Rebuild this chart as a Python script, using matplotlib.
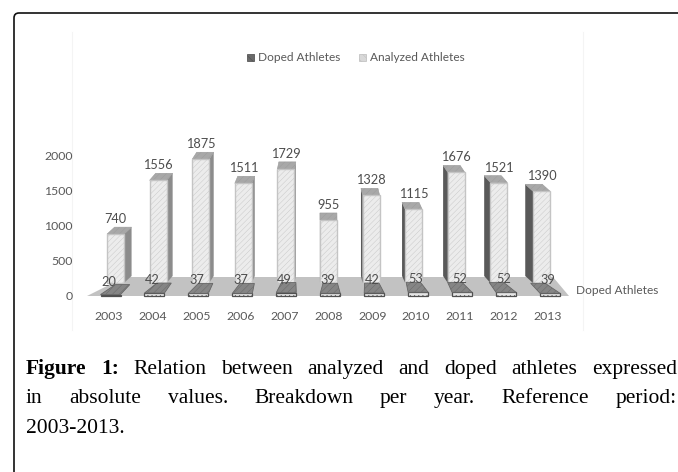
import matplotlib
matplotlib.use("Agg")
import matplotlib.pyplot as plt
from matplotlib.patches import Polygon, PathPatch
from matplotlib.path import Path

years = ["2003","2004","2005","2006","2007","2008","2009","2010","2011","2012","2013"]
analyzed = [740,1556,1875,1511,1729,955,1328,1115,1676,1521,1390]
doped = [20,42,37,37,49,39,42,53,52,52,39]
yticks = [0,500,1000,1500,2000]

W, H = 678, 472
TXT = "#595959"
SANS = "Lato"
SERIF = "Liberation Serif"
plt.rcParams["hatch.linewidth"] = 0.3

fig = plt.figure(figsize=(W/100, H/100), dpi=100)

# pixel overlay for the frame, floor, caption and legend
ov = fig.add_axes([0, 0, 1, 1], zorder=0)
ov.set_xlim(0, W); ov.set_ylim(H, 0); ov.axis("off")
frame = Path([(14, H), (14, 18), (14, 13), (19, 13), (W, 13)],
             [Path.MOVETO, Path.LINETO, Path.CURVE3, Path.CURVE3, Path.LINETO])
ov.add_patch(PathPatch(frame, fc="none", ec="#111111", lw=1.2))
for xp in (72, 583):
    ov.plot([xp, xp], [32, 330], color="#f4f4f4", lw=0.8)
ov.add_patch(Polygon([(87, 296), (569, 296), (553, 277), (125, 277)], fc="#c2c2c2", ec="none"))

ov.add_patch(plt.Rectangle((247, 54), 7, 7, fc="#6a6a6a", ec="#444444", lw=0.5, hatch="\\\\\\\\"))
ov.add_patch(plt.Rectangle((358.5, 54), 7, 7, fc="#d8d8d8", ec="#bbbbbb", lw=0.5, hatch="\\\\\\\\"))
ov.text(258, 57.5, "Doped Athletes", family=SANS, fontsize=8.6, color=TXT, va="center")
ov.text(370, 57.5, "Analyzed Athletes", family=SANS, fontsize=8.6, color=TXT, va="center")
ov.text(576, 291, "Doped Athletes", family=SANS, fontsize=8.6, color=TXT, va="center")

# front plane: tick scale and doped bars
L, R, T, B = 78, 583, 130, 296
ax = fig.add_axes([L/W, 1-B/H, (R-L)/W, (B-T)/H], zorder=2)
ax.patch.set_alpha(0)
FX0, FDX, FSY = 108.5, 43.95, 0.0702
ax.set_xlim((L-FX0)/FDX, (R-FX0)/FDX)
ax.set_ylim(0, (B-T)/FSY)
for s in ax.spines.values():
    s.set_visible(False)
ax.set_xticks(range(len(years)), years)
ax.set_yticks(yticks, [str(t) for t in yticks])
ax.tick_params(length=0, labelcolor=TXT, labelsize=8.8, pad=4)
ax.tick_params(axis="x", pad=11)
for lab in ax.get_xticklabels() + ax.get_yticklabels():
    lab.set_family(SANS)

hw = 10/FDX
shift = 2/FDX
for i, v in enumerate(doped):
    c = FX0 + FDX*i
    dx = (328-c)*0.055/FDX
    dy = 10/FSY
    xc = i + shift
    ax.bar(xc, v, width=2*hw, color="#e6e6e6", edgecolor="#505050", linewidth=0.9, hatch="....",
           zorder=3, clip_on=False)
    ax.add_patch(Polygon([(xc-hw, v), (xc+hw, v), (xc+hw*0.72+dx, v+dy), (xc-hw*0.72+dx, v+dy)],
                         fc="#858585", ec="#666666", lw=0.6, hatch="/////", zorder=3, clip_on=False))
    ax.annotate(str(v), (i, v), xytext=(0, 13*0.72), textcoords="offset points", ha="center", va="center",
                family=SANS, fontsize=9.2, color="#4d4d4d", zorder=5)

# back plane: analyzed bars
BX0, BDX, BSY, BY0 = 115.5, 42.6, 0.066, 283
bk = fig.add_axes([0, 0, 1, 1], zorder=1)
bk.patch.set_alpha(0); bk.axis("off")
bk.set_xlim((0-BX0)/BDX, (W-BX0)/BDX)
bk.set_ylim((BY0-H)/BSY, BY0/BSY)
bw = 8.5/BDX
dv = 7/BSY
for i, v in enumerate(analyzed):
    c = BX0 + BDX*i
    dx = (326-c)*0.036/BDX
    top_col = "#a8a8a8"
    if dx >= 0:
        e = i+bw; col = "#8c8c8c"
    else:
        e = i-bw; col = "#595959"
    bk.add_patch(Polygon([(e, 0), (e, v), (e+dx, v+dv), (e+dx, dv)], fc=col, ec="none", zorder=2))
    bk.add_patch(Polygon([(i-bw, v), (i+bw, v), (i+bw+dx, v+dv), (i-bw+dx, v+dv)],
                         fc=top_col, ec="#9a9a9a", lw=0.4, hatch="/////", zorder=2))
    bk.bar(i, v, width=2*bw, color="#ececec", edgecolor="#c4c4c4", linewidth=1.0, hatch="//////", zorder=3)
    bk.annotate(str(v), (i, v), xytext=(0, 15*0.72), textcoords="offset points", ha="center", va="center",
                family=SANS, fontsize=9.2, color="#4d4d4d", zorder=5)

# justified caption
CAP_L, CAP_R = 26, 677
FS = 15.5
rend = fig.canvas.get_renderer()
def width(t, **k):
    a = ov.text(0, 0, t, family=SERIF, fontsize=FS, **k)
    w = a.get_window_extent(rend).width
    a.remove()
    return w
def justify(words, y):
    ws = [width(w, fontweight="bold" if b else "normal") for w, b in words]
    gap = (CAP_R-CAP_L-sum(ws))/(len(words)-1)
    x = CAP_L
    for (w, b), wd in zip(words, ws):
        ov.text(x, y, w, family=SERIF, fontsize=FS, color="black", va="baseline",
                fontweight="bold" if b else "normal")
        x += wd+gap
justify([("Figure", True), ("1:", True)] + [(w, False) for w in "Relation between analyzed and doped athletes expressed".split()], 374)
justify([(w, False) for w in "in absolute values. Breakdown per year. Reference period:".split()], 403)
ov.text(CAP_L, 433, "2003-2013.", family=SERIF, fontsize=FS, color="black", va="baseline")

fig.savefig("out.png", dpi=100)
